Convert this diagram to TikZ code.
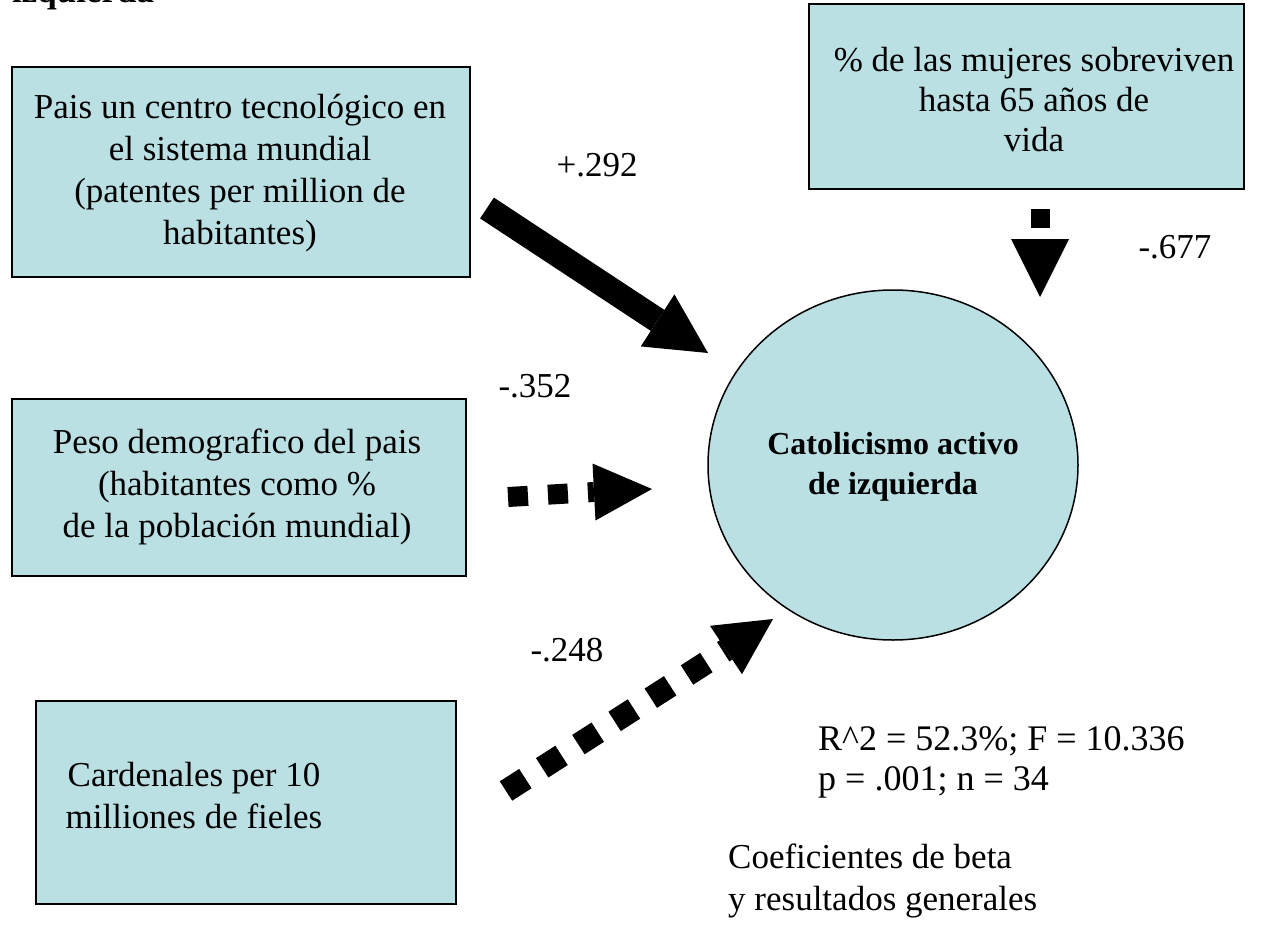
\documentclass[tikz,border=0pt]{standalone}
\usepackage{fontspec}
\setmainfont{Liberation Serif}
\usetikzlibrary{calc,shapes.geometric}
\definecolor{boxfill}{RGB}{187,224,227}
\begin{document}
\begin{tikzpicture}[x=1pt,y=-1pt,
  box/.style={draw=black, line width=1.5pt, fill=boxfill, anchor=north west, inner sep=0pt},
  txt/.style={font=\fontsize{35}{42}\selectfont, align=center, inner sep=0pt},
  lbl/.style={font=\fontsize{35}{42}\selectfont, inner sep=0pt},
  shaft/.style={line width=#1, line cap=butt},
  head/.style={fill=black}
]
\useasboundingbox (0,0) rectangle (1261,929);
\fill[white] (0,0) rectangle (1261,929);

% cut-off title
\node[anchor=base west, font=\bfseries\fontsize{35}{42}\selectfont, inner sep=0pt] (title) at (12,2) {izquierda};

% boxes
\node[box, minimum width=458pt, minimum height=210pt] (b1) at (11,66) {};
\node[box, minimum width=435pt, minimum height=185pt] (b2) at (808,3) {};
\node[box, minimum width=454pt, minimum height=177pt] (b3) at (11,398) {};
\node[box, minimum width=420pt, minimum height=203pt] (b4) at (35,700) {};

\node[txt] (t1) at (240,173) {Pais un centro tecnológico en\\el sistema mundial\\(patentes per million de\\habitantes)};
\node[txt, font=\fontsize{35}{40}\selectfont] (t2) at (1034,100) {\% de las mujeres sobreviven\\hasta 65 años de\\vida};
\node[txt] (t3) at (237,487) {Peso demografico del pais\\(habitantes como \%\\de la población mundial)};
\node[txt] (t4) at (194,796) {Cardenales per 10\\milliones de fieles};

% ellipse
\node[draw=black, line width=1.5pt, fill=boxfill, ellipse, minimum width=370pt, minimum height=350pt, inner sep=0pt] (e) at (893,465) {};
\node[font=\bfseries\fontsize{32}{40}\selectfont, align=center, inner sep=0pt] (et) at (893,467) {Catolicismo activo\\de izquierda};

% arrow 1 (+.292)
\coordinate (a1s) at (487,208);
\coordinate (a1b) at (657.6,320.4);
\coordinate (a1t) at (708,353);
\draw[shaft=25pt] (a1s) -- (a1b);
\fill[head] (a1t) -- ($(a1b)!31pt!90:(a1t)$) -- ($(a1b)!31pt!-90:(a1t)$) -- cycle;

% arrow 2 (-.352)
\coordinate (a2s) at (508,497);
\coordinate (a2b) at (594,492);
\coordinate (a2t) at (652,489);
\draw[shaft=20pt, dash pattern=on 20pt off 20pt] (a2s) -- (a2b);
\fill[head] (a2t) -- ($(a2b)!28.5pt!90:(a2t)$) -- ($(a2b)!28.5pt!-90:(a2t)$) -- cycle;

% arrow 3 (-.248)
\coordinate (a3s) at (506,791);
\coordinate (a3b) at (726,650);
\coordinate (a3t) at (773,619);
\draw[shaft=23pt, dash pattern=on 23pt off 20pt] (a3s) -- (a3b);
\fill[head] (a3t) -- ($(a3b)!29pt!90:(a3t)$) -- ($(a3b)!29pt!-90:(a3t)$) -- cycle;

% arrow 4 (-.677)
\coordinate (a4s) at (1040,209);
\coordinate (a4b) at (1040,239);
\coordinate (a4t) at (1040,297);
\draw[shaft=19pt, dash pattern=on 19pt off 20pt] (a4s) -- (a4b);
\fill[head] (a4t) -- ($(a4b)!29pt!90:(a4t)$) -- ($(a4b)!29pt!-90:(a4t)$) -- cycle;

% labels
\node[lbl] (l1) at (597,165) {+.292};
\node[lbl] (l2) at (535,386) {-.352};
\node[lbl] (l3) at (567,650) {-.248};
\node[lbl] (l4) at (1175,247) {-.677};

\node[lbl, anchor=west, align=left, font=\fontsize{36}{40}\selectfont] (stats) at (818,762) {R\textasciicircum 2 = 52.3\%; F = 10.336\\p = .001; n = 34};
\node[lbl, anchor=west, align=left] (coef) at (728,881) {Coeficientes de beta\\y resultados generales};
\end{tikzpicture}
\end{document}
